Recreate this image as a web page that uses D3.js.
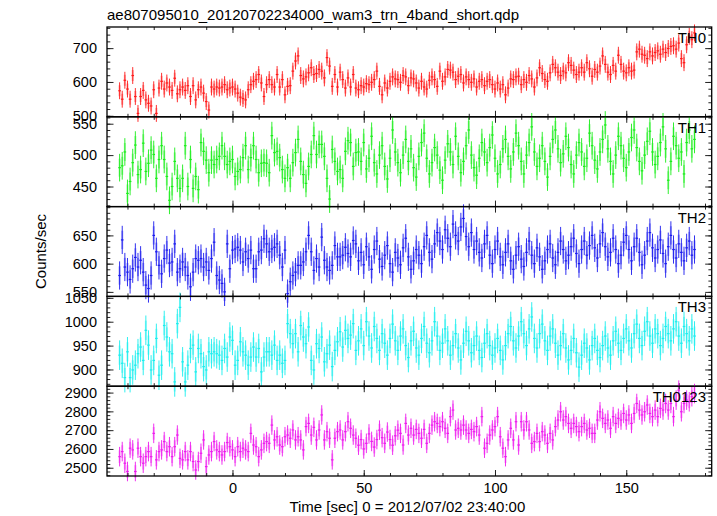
<!DOCTYPE html>
<html><head><meta charset="utf-8">
<script src="https://cdn.jsdelivr.net/npm/d3@7"></script>
<style>
body{margin:0;background:#fff}
svg{display:block}
text{font-family:"Liberation Sans",Arial,Helvetica,sans-serif;fill:#000}
</style>
</head><body>
<svg id="c" width="717" height="516"></svg>
<script>
// ---------------- data ----------------
const title = "ae807095010_20120702234000_wam3_trn_4band_short.qdp";
const xLabel = "Time [sec] 0 = 2012/07/02 23:40:00";
const yLabel = "Counts/sec";
const bandNames = ["TH0", "TH1", "TH2", "TH3", "TH0123"];
const bandColors = ["#ff1a1a", "#1aee1a", "#1a1aee", "#1aeeee", "#ee1aee"];
const binStart = -43;   // centre of first bin [sec]
const binWidth = 1;     // bin size [sec]
const xTickValues = [0, 50, 100, 150];

const valuesTH0 = [
574,549,605,579,549,619,557,507,557,575,547,537,529,577,507,582,602,579,597,
585,575,611,565,577,585,575,589,557,589,547,577,585,567,542,517,585,579,585,
582,585,592,577,582,585,579,567,555,551,547,577,592,602,607,622,597,557,
592,607,592,585,622,585,607,562,587,589,632,662,677,619,609,615,627,642,622,
625,637,632,612,672,647,587,622,585,629,607,582,612,585,622,582,577,589,585,
595,592,599,607,632,587,562,597,582,602,615,609,607,599,619,615,589,612,
609,597,582,602,585,579,605,615,607,587,632,602,615,637,635,629,607,617,
622,597,615,607,599,609,585,602,607,589,602,607,592,579,597,579,592,562,582,
609,607,615,617,592,607,599,619,609,585,612,642,625,607,602,627,652,642,629,
619,632,627,657,649,635,622,629,642,629,657,639,617,637,629,647,677,652,629,
622,649,632,679,652,632,627,642,632,635,689,697,682,679,669,689,677,687,
692,682,697,687,699,705,707,697,715,669,657,710,735,725,745];
const valuesTH1 = [
480,483,505,439,458,488,516,469,477,519,474,487,508,501,463,493,515,493,466,428,
450,490,463,447,463,515,450,493,447,466,445,520,506,492,472,492,485,493,498,515,
498,485,490,493,466,474,477,496,515,477,496,515,493,472,487,488,487,472,531,504,
506,496,477,463,480,463,488,504,525,490,469,455,482,501,531,501,517,517,498,463,
430,509,490,474,477,463,506,523,520,482,504,
505,490,520,478,495,530,488,470,500,515,482,462,495,540,505,488,472,500,525,490,
510,480,465,498,520,535,495,470,488,512,500,476,460,492,518,505,485,530,498,472,
490,515,540,500,480,468,495,520,505,488,512,532,495,470,485,510,525,498,478,505,
535,515,490,470,500,520,545,505,482,495,515,490,465,498,525,540,510,488,502,530,
512,485,470,500,520,505,482,495,535,515,492,478,505,525,548,510,490,470,500,530,
515,495,480,505,528,540,512,490,475,500,522,538,505,485,498,520,545,510,460,490,
530,515,495,505,470,520,540,510,525];
const valuesTH2 = [
579,642,594,585,572,591,611,594,606,585,562,556,579,650,621,597,582,609,624,601,
603,635,585,591,603,594,579,559,585,609,606,609,594,603,588,609,638,579,571,565,
550,635,591,624,626,629,624,603,621,609,624,591,591,621,624,644,635,621,626,629,
635,615,594,624,547,568,579,585,597,597,603,621,650,621,588,609,594,647,606,594,
588,597,632,612,612,615,629,618,612,641,635,
605,620,598,630,612,590,625,640,608,595,615,632,600,585,620,610,598,628,645,612,
590,605,625,615,600,630,650,620,608,635,655,640,625,660,645,630,670,650,640,665,
680,648,630,655,625,640,620,610,635,650,615,600,625,640,612,598,620,635,605,590,
615,630,608,595,620,640,615,600,628,612,590,605,625,635,610,598,620,640,625,605,
615,630,645,618,600,625,640,615,632,650,628,610,635,655,630,612,620,645,625,600,
615,638,650,625,605,630,645,620,598,615,640,655,628,610,625,642,618,600,630,650,
625,610,635,620,605,628,640,615,625];
const valuesTH3 = [
930,913,883,937,883,899,909,933,947,919,982,951,899,919,965,888,909,992,968,937,
933,874,996,1030,916,874,909,944,951,895,944,933,906,899,937,933,937,933,930,919,
944,926,968,961,909,919,958,937,930,909,926,947,926,944,895,926,937,937,930,951,
919,930,913,919,996,975,954,975,937,992,968,954,989,919,899,954,944,968,916,933,
951,906,940,958,979,947,982,965,972,996,940,
960,985,950,1000,970,945,990,965,940,975,955,930,965,995,960,940,970,985,950,925,
960,980,945,930,965,990,955,935,960,1000,970,940,955,985,960,930,950,975,945,920,
955,980,960,935,950,970,940,925,955,975,950,930,945,965,940,920,950,975,990,960,
945,970,1000,975,950,985,1010,965,945,975,995,960,940,970,985,955,930,950,975,945,
920,940,965,935,905,930,955,945,920,950,965,940,925,950,970,945,930,960,980,955,
940,965,985,960,945,975,995,965,950,980,1000,970,955,985,975,950,965,990,975,960,
985,1000,970,955,990,975,960,985,970];
const valuesTH0123 = [
2559,2586,2524,2480,2604,2595,2480,2604,2559,2524,2559,2586,2559,2683,2542,2586,2595,2639,2586,2612,
2559,2612,2674,2550,2542,2586,2542,2586,2533,2488,2533,2577,2648,2506,2568,2586,2639,2595,2586,2568,
2586,2634,2612,2595,2559,2612,2586,2604,2595,2586,2683,2621,2612,2559,2595,2630,2639,2630,2727,2648,
2665,2621,2612,2665,2674,2657,2701,2648,2665,2648,2595,2719,2736,2674,2715,2648,2701,2781,2648,2692,
2657,2542,2657,2692,2701,2648,2692,2745,2710,2674,2657,
2620,2650,2600,2630,2680,2640,2610,2650,2700,2660,2630,2690,2650,2620,2670,2700,
2683,2621,2736,2674,2710,2674,2704,2683,2657,
2704,2630,2683,2727,2745,2736,2719,2745,2710,2683,2772,2807,2701,2710,2701,2727,2701,2683,
2704,2692,2719,2674,2772,2604,2630,2674,2701,2719,2772,2665,2604,2559,2648,2710,2648,2745,2621,
2745,2701,2745,2701,2630,2639,2683,2639,2692,2674,2630,2683,2648,2719,2754,2798,2754,2772,2736,2710,
2736,2719,2692,2719,2736,2701,2710,2683,
2683,2754,2798,2763,2736,2754,2710,2772,2736,2763,2754,2789,2754,2781,2736,2789,2842,2807,2781,2798,2834,2789,2772,2807,
2772,2816,2807,2842,2807,2842,2772,2860,2913,2798,2842,2860,2851,2878,2895];

// typical 1-sigma error of one bin
const bandErrors = [25, 22, 25, 31, 52];

const yTicksTH0 = [500, 600, 700];
const yTicksTH1 = [450, 500, 550];
const yTicksTH2 = [550, 600, 650];
const yTicksTH3 = [900, 950, 1000, 1050];
const yTicksTH0123 = [2500, 2600, 2700, 2800, 2900];
const yMinorSteps = [20, 10, 10, 10, 20];
const yRanges = [[497, 762.5], [418, 561], [542, 701], [865, 1053], [2456, 2934]];

const bandValues = [valuesTH0, valuesTH1, valuesTH2, valuesTH3, valuesTH0123];
const bandTicks = [yTicksTH0, yTicksTH1, yTicksTH2, yTicksTH3, yTicksTH0123];

// ---------------- layout ----------------
(function () {
const plotL = 107, plotR = 711.7, plotT = 27, plotB = 476;
const ph = (plotB - plotT) / 5;
const svg = d3.select("#c");

const x = d3.scaleLinear().domain([-47.8, 182.55]).range([plotL, plotR]);
const xMinor = d3.range(-40, 181, 10);

function styleAxis(g, hideText) {
  g.select(".domain").remove();
  g.selectAll(".tick line").attr("stroke", "#222").attr("stroke-width", 1);
  g.selectAll(".tick text").attr("font-size", "14.5px").attr("fill", "#000")
    .attr("font-family", '"Liberation Sans",Arial,sans-serif');
  if (hideText) g.selectAll(".tick text").remove();
}

bandValues.forEach((vals, i) => {
  const y0 = plotT + i * ph, y1 = y0 + ph;
  const y = d3.scaleLinear().domain(yRanges[i]).range([y1, y0]);
  const col = bandColors[i];
  const err = bandErrors[i];
  const g = svg.append("g");
  const pts = vals.map((v, j) => ({t: binStart + j * binWidth, v}));

  g.selectAll("line.pale").data(pts).join("line").attr("class", "pale")
    .attr("x1", d => x(d.t)).attr("x2", d => x(d.t))
    .attr("y1", d => y(d.v - err * 0.65)).attr("y2", d => y(d.v + err * 0.65))
    .attr("stroke", col).attr("stroke-opacity", 0.4).attr("stroke-width", 2);
  g.selectAll("line.err").data(pts).join("line").attr("class", "err")
    .attr("x1", d => x(d.t)).attr("x2", d => x(d.t))
    .attr("y1", d => y(d.v - err)).attr("y2", d => y(d.v + err))
    .attr("stroke", col).attr("stroke-width", 0.9);
  g.selectAll("line.bin").data(pts).join("line").attr("class", "bin")
    .attr("x1", d => x(d.t - binWidth / 2)).attr("x2", d => x(d.t + binWidth / 2))
    .attr("y1", d => y(d.v)).attr("y2", d => y(d.v))
    .attr("stroke", col).attr("stroke-width", 1.2);

  const lo = Math.ceil(yRanges[i][0] / yMinorSteps[i]) * yMinorSteps[i];
  const minor = d3.range(lo, yRanges[i][1], yMinorSteps[i]);
  svg.append("g").attr("transform", `translate(${plotL},0)`)
    .call(d3.axisLeft(y).tickValues(minor).tickSize(-3.3).tickFormat(""))
    .call(g => styleAxis(g, true));
  svg.append("g").attr("transform", `translate(${plotL},0)`)
    .call(d3.axisLeft(y).tickValues(bandTicks[i]).tickSize(-6.5).tickPadding(10).tickFormat(d3.format("d")))
    .call(g => styleAxis(g, false));
  svg.append("g").attr("transform", `translate(${plotR},0)`)
    .call(d3.axisRight(y).tickValues(minor).tickSize(-3.3).tickFormat(""))
    .call(g => styleAxis(g, true));
  svg.append("g").attr("transform", `translate(${plotR},0)`)
    .call(d3.axisRight(y).tickValues(bandTicks[i]).tickSize(-6.5).tickFormat(""))
    .call(g => styleAxis(g, true));

  svg.append("g").attr("transform", `translate(0,${y0})`)
    .call(d3.axisTop(x).tickValues(xMinor).tickSize(-3).tickFormat(""))
    .call(g => styleAxis(g, true));
  svg.append("g").attr("transform", `translate(0,${y0})`)
    .call(d3.axisTop(x).tickValues(xTickValues).tickSize(-6).tickFormat(""))
    .call(g => styleAxis(g, true));
  svg.append("g").attr("transform", `translate(0,${y1})`)
    .call(d3.axisBottom(x).tickValues(xMinor).tickSize(-3).tickFormat(""))
    .call(g => styleAxis(g, true));
  svg.append("g").attr("transform", `translate(0,${y1})`)
    .call(d3.axisBottom(x).tickValues(xTickValues).tickSize(-6).tickPadding(7).tickFormat(d3.format("d")))
    .call(g => styleAxis(g, i !== 4));

  svg.append("rect").attr("x", plotL).attr("y", y0).attr("width", plotR - plotL).attr("height", ph)
    .attr("fill", "none").attr("stroke", "#000").attr("stroke-width", 1.3);

  svg.append("text").attr("x", 706).attr("y", y0 + 16).attr("text-anchor", "end")
    .attr("font-size", "15px").text(bandNames[i]);
});

svg.append("text").attr("x", plotL).attr("y", 19.5).attr("font-size", "15px").text(title);
svg.append("text").attr("x", (plotL + plotR) / 2 - 2).attr("y", 512).attr("text-anchor", "middle")
  .attr("font-size", "15px").text(xLabel);
svg.append("text").attr("transform", `translate(46,${(plotT + plotB) / 2}) rotate(-90)`)
  .attr("text-anchor", "middle").attr("font-size", "15px").text(yLabel);
})();
</script>
</body></html>
